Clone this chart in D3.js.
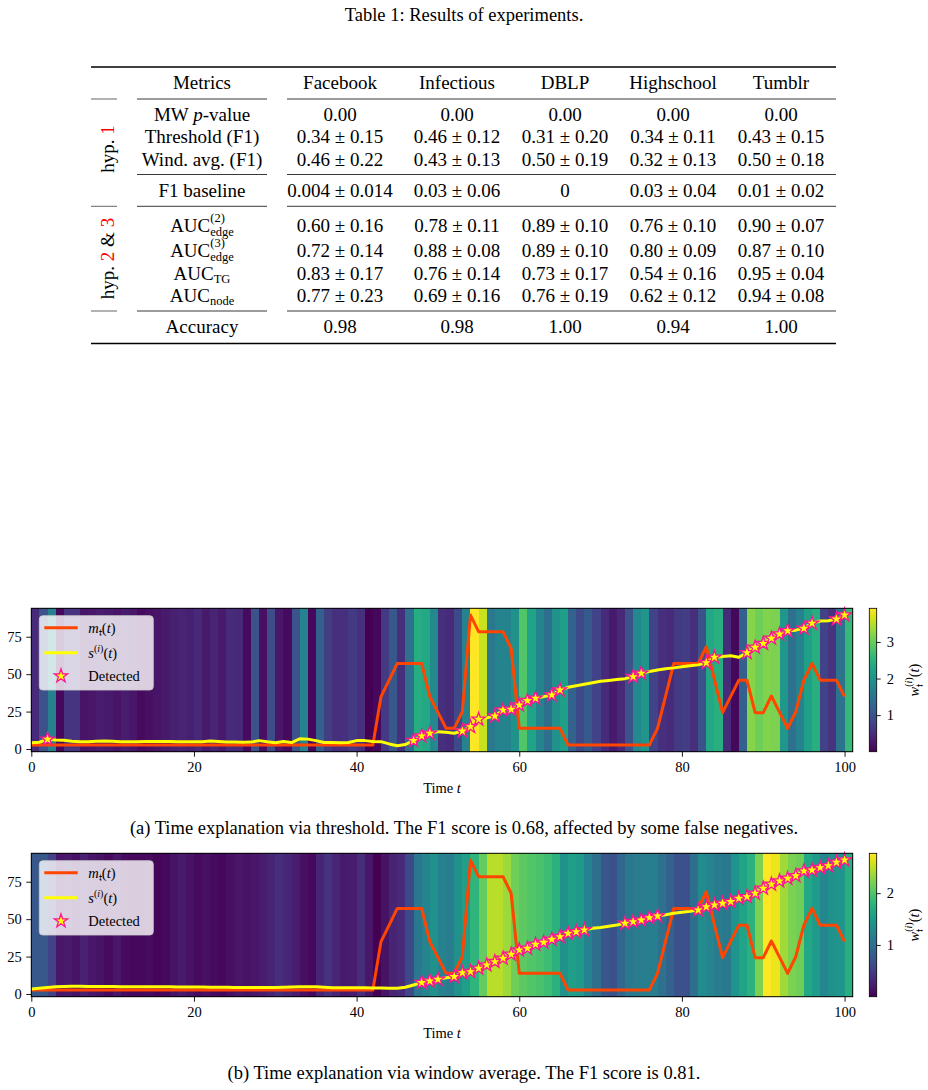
<!DOCTYPE html>
<html>
<head>
<meta charset="utf-8">
<script src="https://cdn.jsdelivr.net/npm/d3@7"></script>
<style>
  body { margin: 0; background: #fff; }
  svg { display: block; font-family: "Liberation Serif", "Times New Roman", serif; }
</style>
</head>
<body>
<svg id="fig" width="928" height="1090"></svg>
<script>
// ---------- table data ----------
const tableTitle = "Table 1: Results of experiments.";
const datasets = ["Facebook", "Infectious", "DBLP", "Highschool", "Tumblr"];
const mwPValue = ["0.00", "0.00", "0.00", "0.00", "0.00"];
const thresholdF1 = ["0.34 ± 0.15", "0.46 ± 0.12", "0.31 ± 0.20", "0.34 ± 0.11", "0.43 ± 0.15"];
const windAvgF1 = ["0.46 ± 0.22", "0.43 ± 0.13", "0.50 ± 0.19", "0.32 ± 0.13", "0.50 ± 0.18"];
const f1Baseline = ["0.004 ± 0.014", "0.03 ± 0.06", "0", "0.03 ± 0.04", "0.01 ± 0.02"];
const aucEdge2 = ["0.60 ± 0.16", "0.78 ± 0.11", "0.89 ± 0.10", "0.76 ± 0.10", "0.90 ± 0.07"];
const aucEdge3 = ["0.72 ± 0.14", "0.88 ± 0.08", "0.89 ± 0.10", "0.80 ± 0.09", "0.87 ± 0.10"];
const aucTG = ["0.83 ± 0.17", "0.76 ± 0.14", "0.73 ± 0.17", "0.54 ± 0.16", "0.95 ± 0.04"];
const aucNode = ["0.77 ± 0.23", "0.69 ± 0.16", "0.76 ± 0.19", "0.62 ± 0.12", "0.94 ± 0.08"];
const accuracy = ["0.98", "0.98", "1.00", "0.94", "1.00"];

// ---------- time series data (t = 0..100) ----------
const mT = [
  2.7, 2.7, 2.7, 2.7, 2.7, 2.7, 2.7, 2.7, 2.7, 2.7,
  2.7, 2.7, 2.7, 2.7, 2.7, 2.7, 2.7, 2.7, 2.7, 2.7,
  2.7, 2.7, 2.7, 2.7, 2.7, 2.7, 2.7, 2.7, 2.7, 2.7,
  2.7, 2.7, 2.7, 2.7, 2.7, 2.7, 2.7, 2.7, 2.7, 2.7,
  2.7, 2.7, 2.7, 35, 46, 57.2, 57.2, 57.2, 57.2, 35,
  24.5, 13.8, 13.8, 24.9, 89.5, 78.4, 78.4, 78.4, 78.4, 67.3,
  13.8, 13.8, 13.8, 13.8, 13.8, 13.8, 2.7, 2.7, 2.7, 2.7,
  2.7, 2.7, 2.7, 2.7, 2.7, 2.7, 2.7, 13.8, 35.5, 57.2,
  57.2, 57.2, 57.2, 68.3, 46.3, 24.3, 35.2, 46, 46, 24.3,
  24.3, 35.4, 24.6, 13.8, 24.9, 46, 57.2, 46, 46, 46,
  35
];
const sThreshold = [
  4.2, 4.5, 6.5, 6.0, 5.8, 5.2, 4.9, 4.9, 5.2, 5.3,
  5.1, 4.9, 4.8, 4.9, 5.0, 5.0, 5.0, 5.0, 4.9, 4.8,
  4.9, 4.9, 5.3, 5.0, 4.7, 4.7, 4.5, 4.6, 5.6, 4.8,
  4.2, 5.0, 4.3, 6.8, 6.6, 5.6, 4.3, 4.3, 4.2, 4.4,
  5.6, 5.6, 5.0, 4.9, 3.4, 2.2, 3.0, 5.6, 8.7, 10.5,
  11.6, 11.2, 10.5, 12.0, 14.9, 19.8, 20.8, 22.0, 26.0, 26.5,
  29.4, 32.3, 33.9, 35.0, 36.1, 39.4, 41.2, 42.2, 43.3, 44.3,
  45.2, 45.8, 46.5, 47.0, 48.3, 50.6, 51.8, 52.8, 53.6, 54.2,
  55.0, 55.6, 56.2, 57.6, 61.3, 61.8, 62.3, 61.3, 64.3, 67.9,
  70.5, 73.9, 76.8, 79.0, 79.4, 80.6, 84.0, 85.5, 85.7, 86.8,
  89.5
];
const sWindow = [
  3.3, 3.8, 4.4, 4.9, 5.0, 5.1, 5.1, 5.0, 5.0, 5.0,
  5.0, 4.9, 4.9, 4.9, 4.9, 4.8, 4.8, 4.8, 4.7, 4.7,
  4.6, 4.6, 4.5, 4.5, 4.5, 4.4, 4.4, 4.3, 4.3, 4.3,
  4.3, 4.5, 4.7, 4.9, 4.9, 4.8, 4.5, 4.2, 4.2, 4.1,
  4.1, 4.1, 4.0, 4.0, 3.9, 3.8, 4.5, 6.0, 7.6, 8.7,
  9.8, 10.8, 11.6, 14.2, 14.9, 17.2, 19.4, 21.6, 23.8, 26.5,
  29.4, 30.5, 33.2, 34.5, 36.5, 38.3, 40.5, 41.6, 42.8, 43.9,
  44.5, 45.3, 46.1, 47.2, 48.3, 49.4, 51.0, 52.1, 53.0, 53.9,
  54.6, 55.2, 56.1, 58.3, 59.5, 60.6, 61.7, 63.9, 65.0, 67.3,
  70.6, 73.3, 75.5, 77.3, 79.0, 82.2, 82.8, 84.4, 85.7, 88.0,
  89.5
];
const wThreshold = [
  0.47, 0.98, 1.69, 0.08, 0.59, 0.59, 0.20, 0.24, 0.31, 0.27,
  0.20, 0.31, 0.24, 0.12, 0.16, 0.20, 0.27, 0.35, 0.39, 0.35,
  0.43, 0.27, 0.39, 0.27, 0.47, 0.43, 0.12, 0.98, 0.16, 0.90,
  0.24, 0.12, 0.98, 1.72, 0.08, 1.18, 0.70, 0.55, 0.55, 0.67,
  0.55, 0.00, 0.08, 0.67, 1.06, 0.55, 1.45, 2.43, 2.35, 1.84,
  0.55, 0.47, 0.86, 1.76, 3.92, 3.60, 1.57, 1.76, 1.76, 1.96,
  2.85, 2.27, 1.76, 1.41, 1.96, 2.20, 1.22, 0.86, 1.10, 0.78,
  0.47, 0.27, 0.43, 0.98, 1.84, 2.04, 0.78, 0.55, 0.47, 0.67,
  0.70, 0.55, 0.98, 2.35, 2.47, 0.47, 0.08, 1.18, 3.21, 3.06,
  3.18, 3.14, 2.08, 1.45, 1.72, 2.23, 2.47, 0.78, 0.59, 1.50,
  2.63
];
const wWindow = [
  0.75, 0.75, 0.55, 0.17, 0.19, 0.14, 0.25, 0.17, 0.14, 0.08,
  0.17, 0.08, 0.06, 0.06, 0.08, 0.03, 0.06, 0.14, 0.19, 0.14,
  0.08, 0.11, 0.08, 0.06, 0.11, 0.17, 0.14, 0.17, 0.22, 0.28,
  0.36, 0.30, 0.22, 0.11, 0.06, 0.28, 0.39, 0.30, 0.19, 0.22,
  0.36, 0.17, 0.00, 0.14, 0.28, 0.33, 0.61, 1.11, 1.25, 1.39,
  1.22, 1.16, 1.39, 1.55, 1.80, 2.10, 2.47, 2.47, 2.35, 2.16,
  2.08, 2.02, 1.97, 1.91, 1.77, 1.39, 1.55, 1.50, 1.22, 1.00,
  0.75, 0.69, 0.91, 1.11, 1.14, 1.16, 1.19, 1.02, 0.86, 0.69,
  0.69, 1.00, 1.33, 1.25, 1.14, 1.11, 1.43, 1.61, 1.77, 2.22,
  2.77, 2.69, 2.38, 2.22, 2.16, 1.66, 1.52, 1.27, 1.39, 1.44,
  1.75
];
const detectedThreshold = [2, 47, 48, 49, 53, 54, 55, 57, 58, 59, 60, 61, 62, 64, 65,
  74, 75, 83, 84, 88, 89, 90, 91, 92, 93, 95, 96, 99, 100];
const detectedWindow = [48, 49, 50, 52, 53, 54, 55, 56, 57, 58, 59, 60, 61, 62, 63, 64, 65, 66, 67, 68,
  73, 74, 75, 76, 77, 82, 83, 84, 85, 86, 87, 88, 89, 90, 91, 92, 93, 94, 95, 96, 97, 98, 99, 100];
const captionA = "(a) Time explanation via threshold. The F1 score is 0.68, affected by some false negatives.";
const captionB = "(b) Time explanation via window average. The F1 score is 0.81.";

const svg = d3.select("#fig");

// text made of pieces (italic, sub/superscripts), measured and anchored
function rich(parent, x, y, parts, opt = {}) {
  const size = opt.size || 19;
  const anchor = opt.anchor || "middle";
  const outer = parent.append("g");
  const g = outer.append("g");
  let cx = 0, lastStart = 0;
  parts.forEach((p) => {
    const o = typeof p === "string" ? { t: p } : p;
    const start = o.stack ? lastStart : cx;
    const el = g.append("text")
      .attr("x", start)
      .attr("y", o.dy || 0)
      .attr("font-size", o.fs || size)
      .attr("fill", o.fill || "#000")
      .style("white-space", "pre");
    const spans = o.spans || [[o.t, o.it]];
    spans.forEach(([s, it]) => el.append("tspan").attr("font-style", it ? "italic" : null).text(s));
    const w = el.node().getComputedTextLength();
    if (!o.stack) lastStart = start;
    cx = Math.max(cx, start + w);
  });
  const off = anchor === "middle" ? -cx / 2 : anchor === "end" ? -cx : 0;
  g.attr("transform", `translate(${off},0)`);
  outer.attr("transform", `translate(${x},${y})` + (opt.rot ? ` rotate(${opt.rot})` : ""));
  return outer;
}

// ---------- table ----------
const colX = [340, 457, 565, 673, 781];
const labelX = 202;
const tbl = svg.append("g");

rich(tbl, 464, 21, [tableTitle], { size: 18.5 });

const rowLabels = [
  ["MW ", { t: "p", it: true }, "-value"],
  ["Threshold (F1)"],
  ["Wind. avg. (F1)"],
  ["F1 baseline"],
  ["AUC", { t: "(2)", fs: 12.5, dy: -9.5 }, { t: "edge", fs: 12.5, dy: 4, stack: true }],
  ["AUC", { t: "(3)", fs: 12.5, dy: -9.5 }, { t: "edge", fs: 12.5, dy: 4, stack: true }],
  ["AUC", { t: "TG", fs: 12.5, dy: 3.5 }],
  ["AUC", { t: "node", fs: 12.5, dy: 3.5 }],
  ["Accuracy"]
];
const rowValues = [mwPValue, thresholdF1, windAvgF1, f1Baseline, aucEdge2, aucEdge3, aucTG, aucNode, accuracy];
const rowBase = [121.3, 143.4, 165.5, 196.8, 231.6, 256.7, 279.8, 301.8, 333.2];

rich(tbl, labelX, 89, ["Metrics"]);
datasets.forEach((d, j) => rich(tbl, colX[j], 89, [d]));
rowLabels.forEach((parts, i) => {
  rich(tbl, labelX, rowBase[i], parts);
  rowValues[i].forEach((v, j) => rich(tbl, colX[j], rowBase[i], [v]));
});

function hline(y, x1, x2, w, c) {
  tbl.append("line").attr("x1", x1).attr("x2", x2).attr("y1", y).attr("y2", y)
    .attr("stroke", c).attr("stroke-width", w);
}
hline(67, 91, 836, 1.3, "#000");
hline(343.5, 91, 836, 1.3, "#000");
[99, 206.3, 311].forEach((y) => hline(y, 91, 117, 0.9, "#555"));
[99, 174.5, 206.3, 311].forEach((y) => {
  hline(y, 137, 267, 0.9, "#222");
  hline(y, 287, 836, 0.9, "#222");
});

rich(tbl, 114, 149, ["hyp. ", { t: "1", fill: "#ff0000" }], { rot: -90 });
rich(tbl, 114, 258.5, ["hyp. ", { t: "2", fill: "#ff0000" }, " & ", { t: "3", fill: "#ff0000" }], { rot: -90 });

// ---------- panels ----------
const defs = svg.append("defs");

function panel(id, top, w, s, detected, wMax, wTicks, caption) {
  const left = 31.3, right = 852.7, bottom = top + 143.4;
  const fs = 14.5;
  const x = d3.scaleLinear().domain([0, 101]).range([left, right]);
  const y = d3.scaleLinear().domain([-1.8, 94]).range([bottom, top]);
  const color = d3.scaleSequential(d3.interpolateViridis).domain([0, wMax]);
  const g = svg.append("g");

  // heatmap of weights
  g.append("g").selectAll("rect")
    .data(w)
    .join("rect")
    .attr("x", (d, i) => x(i))
    .attr("width", (d, i) => x(i + 1) - x(i))
    .attr("y", top)
    .attr("height", bottom - top)
    .attr("fill", (d) => color(d))
    .attr("shape-rendering", "crispEdges");

  const line = d3.line().x((d, i) => x(i)).y((d) => y(d));
  g.append("path").datum(mT).attr("d", line)
    .attr("fill", "none").attr("stroke", "#ff4500").attr("stroke-width", 3)
    .attr("stroke-linejoin", "round");
  g.append("path").datum(s).attr("d", line)
    .attr("fill", "none").attr("stroke", "#ffff00").attr("stroke-width", 3)
    .attr("stroke-linejoin", "round");

  const star = d3.symbol(d3.symbolStar, 56);
  g.append("g").selectAll("path")
    .data(detected)
    .join("path")
    .attr("d", star)
    .attr("transform", (t) => `translate(${x(t)},${y(s[t])})`)
    .attr("fill", "#ffff00").attr("stroke", "#ff1493").attr("stroke-width", 1.3);

  // frame
  g.append("rect").attr("x", left).attr("y", top).attr("width", right - left).attr("height", bottom - top)
    .attr("fill", "none").attr("stroke", "#000").attr("stroke-width", 1);

  const xAxis = g.append("g").attr("transform", `translate(0,${bottom})`)
    .call(d3.axisBottom(x).tickValues([0, 20, 40, 60, 80, 100]).tickSize(5).tickPadding(5.5));
  const yAxis = g.append("g").attr("transform", `translate(${left},0)`)
    .call(d3.axisLeft(y).tickValues([0, 25, 50, 75]).tickSize(5).tickPadding(4.5));
  [xAxis, yAxis].forEach((a) => {
    a.select(".domain").remove();
    a.attr("font-family", null).attr("font-size", fs);
    a.selectAll("line").attr("stroke-width", 0.9);
  });

  rich(g, (left + right) / 2, bottom + 41.5, ["Time ", { t: "t", it: true }], { size: fs });

  // legend
  const lg = g.append("g");
  lg.append("rect").attr("x", 39.3).attr("y", top + 7.4).attr("width", 114).attr("height", 74.3)
    .attr("rx", 3.5).attr("fill", "#fff").attr("fill-opacity", 0.8)
    .attr("stroke", "#ccc").attr("stroke-opacity", 0.8);
  lg.append("line").attr("x1", 44.3).attr("x2", 77.7).attr("y1", top + 19.4).attr("y2", top + 19.4)
    .attr("stroke", "#ff4500").attr("stroke-width", 3);
  lg.append("line").attr("x1", 44.3).attr("x2", 77.7).attr("y1", top + 44.4).attr("y2", top + 44.4)
    .attr("stroke", "#ffff00").attr("stroke-width", 3);
  lg.append("path").attr("d", star).attr("transform", `translate(61,${top + 67.7})`)
    .attr("fill", "#ffff00").attr("stroke", "#ff1493").attr("stroke-width", 1.3);
  rich(lg, 88.3, top + 24.5, [{ t: "m", it: true }, { t: "𝔱", fs: 10, dy: 3 },
    { spans: [["(", 0], ["t", 1], [")", 0]] }], { size: fs, anchor: "start" });
  rich(lg, 88.3, top + 49.5, [{ t: "s", it: true }, { spans: [["(", 0], ["i", 1], [")", 0]], fs: 10, dy: -6 },
    { spans: [["(", 0], ["t", 1], [")", 0]] }], { size: fs, anchor: "start" });
  rich(lg, 88.3, top + 72.8, ["Detected"], { size: fs, anchor: "start" });

  // colorbar
  const grad = defs.append("linearGradient").attr("id", id)
    .attr("x1", 0).attr("y1", 1).attr("x2", 0).attr("y2", 0);
  d3.range(0, 1.0001, 0.05).forEach((o) =>
    grad.append("stop").attr("offset", o).attr("stop-color", d3.interpolateViridis(o)));
  const cbx = 869.3, cbw = 7.4;
  const cy = d3.scaleLinear().domain([0, wMax]).range([bottom, top]);
  g.append("rect").attr("x", cbx).attr("y", top).attr("width", cbw).attr("height", bottom - top)
    .attr("fill", `url(#${id})`).attr("stroke", "#000").attr("stroke-width", 0.8);
  const cAxis = g.append("g").attr("transform", `translate(${cbx + cbw},0)`)
    .call(d3.axisRight(cy).tickValues(wTicks).tickFormat(d3.format("d")).tickSize(4).tickPadding(6));
  cAxis.select(".domain").remove();
  cAxis.attr("font-family", null).attr("font-size", fs);
  cAxis.selectAll("line").attr("stroke-width", 0.9);

  rich(g, 919, (top + bottom) / 2, [{ t: "w", it: true },
    { spans: [["(", 0], ["i", 1], [")", 0]], fs: 10, dy: -7 },
    { t: "𝔱", fs: 10, dy: 3.5, stack: true },
    { spans: [["(", 0], ["t", 1], [")", 0]] }], { size: fs, rot: -90 });

  rich(svg, 464, bottom + 82, [caption], { size: 18.5 });
}

panel("cbA", 608.3, wThreshold, sThreshold, detectedThreshold, 3.92, [1, 2, 3], captionA);
panel("cbB", 853.3, wWindow, sWindow, detectedWindow, 2.77, [1, 2], captionB);
</script>
</body>
</html>
